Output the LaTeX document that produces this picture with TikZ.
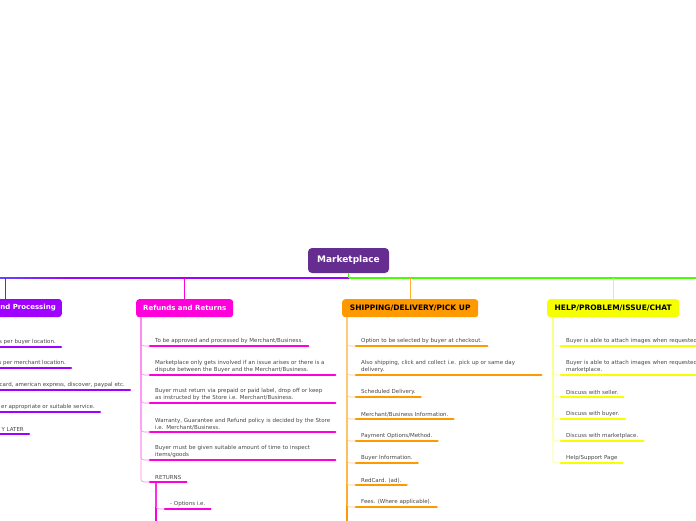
\documentclass[tikz,border=0pt]{standalone}
\usepackage{fontspec}
\setmainfont{DejaVu Sans}
\definecolor{raizcol}{RGB}{102,45,145}
\definecolor{morado}{RGB}{160,0,255}
\definecolor{azulado}{RGB}{90,80,255}
\definecolor{rosa}{RGB}{255,0,220}
\definecolor{rosaclaro}{RGB}{255,130,240}
\definecolor{naranja}{RGB}{255,153,0}
\definecolor{naranjaclaro}{RGB}{255,205,130}
\definecolor{amarillo}{RGB}{245,255,0}
\definecolor{amarilloclaro}{RGB}{250,255,130}
\definecolor{verde}{RGB}{70,255,0}
\definecolor{gristexto}{RGB}{70,70,70}
\tikzset{
  rama/.style={rounded corners=3pt, minimum height=18pt, inner xsep=6pt, font=\fontsize{7}{8}\selectfont\bfseries},
  mayus/.style={font=\fontsize{7.5}{8}\selectfont\bfseries},
  hoja/.style={anchor=south west, align=left, inner xsep=5pt, inner ysep=2pt, text=gristexto, font=\fontsize{5.5}{7}\selectfont},
  ancha/.style={text width=175pt},
  subrayado/.style={line width=2.2pt, line cap=round},
  enlace/.style={line width=0.6pt, rounded corners=3pt}
}
\begin{document}
\begin{tikzpicture}[x=1pt,y=-1pt]
  \useasboundingbox (0,0) rectangle (696,520);
  \clip (0,0) rectangle (696,520);
  % Nodo central
  \node[rounded corners=4pt, fill=raizcol, text=white, minimum width=81pt, minimum height=25pt, font=\fontsize{9}{10}\selectfont\bfseries] (raiz) at (348.5,260.5) {Marketplace};
  \coordinate (eje) at (348.5,278);
  % Ramas principales
  \node[rama, fill=morado, text=white, anchor=east] (pago) at (62,308) {nd Processing};
  \node[rama, fill=rosa, text=white, anchor=north west, minimum width=97pt] (rr) at (136,299) {Refunds and Returns};
  \node[rama, mayus, fill=naranja, text=black, anchor=north west, minimum width=136pt] (env) at (342,299) {SHIPPING/DELIVERY/PICK UP};
  \node[rama, mayus, fill=amarillo, text=black, anchor=north west, minimum width=132pt] (ayu) at (547,299) {HELP/PROBLEM/ISSUE/CHAT};
  % Lineas de union
  \draw[line width=1.4pt, morado] (eje) -- (-10,278);
  \shade[left color=azulado, right color=morado] (-10,277.3) rectangle (70,278.7);
  \draw[line width=1.4pt, verde] (eje) -- (706,278);
  \draw[line width=1.2pt, verde] (raiz.south) -- (eje);
  \draw[line width=0.8pt, morado] ([xshift=-57pt]pago.north east) -- ([xshift=-57pt]pago.north east |- eje);
  \draw[line width=0.8pt, rosa] (rr.north) -- (rr.north |- eje);
  \draw[line width=0.8pt, naranja!80] (env.north) -- (env.north |- eje);
  \draw[line width=0.8pt, amarillo] (ayu.north) -- (ayu.north |- eje);
  % Hojas de pago (cortadas)
  \node[hoja, anchor=south east] (p1) at (61,347) {s per buyer location.};
  \node[hoja, anchor=south east] (p2) at (71,368) {s per merchant location.};
  \node[hoja, anchor=south east] (p3) at (130,390) {card, american express, discover, paypal etc.};
  \node[hoja, anchor=south east] (p4) at (100,412) {er appropriate or suitable service.};
  \node[hoja, anchor=south east] (p5) at (29,434) {Y LATER};
  \foreach \n in {p1,p2,p3,p4,p5}
    \draw[subrayado, morado] (\n.south east) -- ++(-150,0);
  % Hojas de devoluciones
  \node[hoja] (r1) at (150,346) {To be approved and processed by Merchant/Business.};
  \node[hoja, ancha] (r2) at (150,375) {Marketplace only gets involved if an issue arises or there is a\\dispute between the Buyer and the Merchant/Business.};
  \node[hoja, ancha] (r3) at (150,403) {Buyer must return via prepaid or paid label, drop off or keep\\as instructed by the Store i.e. Merchant/Business.};
  \node[hoja, ancha] (r4) at (150,432) {Warranty, Guarantee and Refund policy is decided by the Store\\i.e. Merchant/Business.};
  \node[hoja, ancha] (r5) at (150,460) {Buyer must be given suitable amount of time to inspect\\items/goods};
  \node[hoja] (r6) at (150,482) {RETURNS};
  \node[hoja] (r7) at (165,509) {- Options i.e.};
  \foreach \n in {r1,r2,r3,r4,r5,r6}
    \draw[enlace, rosaclaro] ([xshift=5pt]rr.south west) |- (\n.south west);
  \draw[line width=1.5pt, rosa] ([xshift=6pt]r6.south west) -- ++(0,60);
  \draw[enlace, rosaclaro] ([xshift=6pt]r6.south west) |- (r7.south west);
  \foreach \n in {r1,r2,r3,r4,r5,r6,r7}
    \draw[subrayado, rosa] (\n.south west) -- (\n.south east);
  % Hojas de envio
  \node[hoja] (s1) at (356,346) {Option to be selected by buyer at checkout.};
  \node[hoja, ancha] (s2) at (356,375) {Also shipping, click and collect i.e. pick up or same day\\delivery.};
  \node[hoja] (s3) at (356,397) {Scheduled Delivery.};
  \node[hoja] (s4) at (356,419) {Merchant/Business Information.};
  \node[hoja] (s5) at (356,441) {Payment Options/Method.};
  \node[hoja] (s6) at (356,463) {Buyer Information.};
  \node[hoja] (s7) at (356,485) {RedCard. (ad).};
  \node[hoja] (s8) at (356,507) {Fees. (Where applicable).};
  \draw[line width=1.5pt, naranja] ([xshift=5pt]env.south west) -- ++(0,230);
  \foreach \n in {s1,s2,s3,s4,s5,s6,s7,s8}
    \draw[enlace, naranjaclaro] ([xshift=5pt]env.south west) |- (\n.south west);
  \foreach \n in {s1,s2,s3,s4,s5,s6,s7,s8}
    \draw[subrayado, naranja] (\n.south west) -- (\n.south east);
  % Hojas de ayuda
  \node[hoja, ancha] (h1) at (561,346) {Buyer is able to attach images when requested};
  \node[hoja, ancha] (h2) at (561,375) {Buyer is able to attach images when requested\\marketplace.};
  \node[hoja] (h3) at (561,397) {Discuss with seller.};
  \node[hoja] (h4) at (561,419) {Discuss with buyer.};
  \node[hoja] (h5) at (561,441) {Discuss with marketplace.};
  \node[hoja] (h6) at (561,463) {Help/Support Page};
  \foreach \n in {h1,h2,h3,h4,h5,h6}
    \draw[enlace, amarilloclaro] ([xshift=6pt]ayu.south west) |- (\n.south west);
  \foreach \n in {h1,h2,h3,h4,h5,h6}
    \draw[subrayado, amarillo] (\n.south west) -- (\n.south east);
\end{tikzpicture}
\end{document}
